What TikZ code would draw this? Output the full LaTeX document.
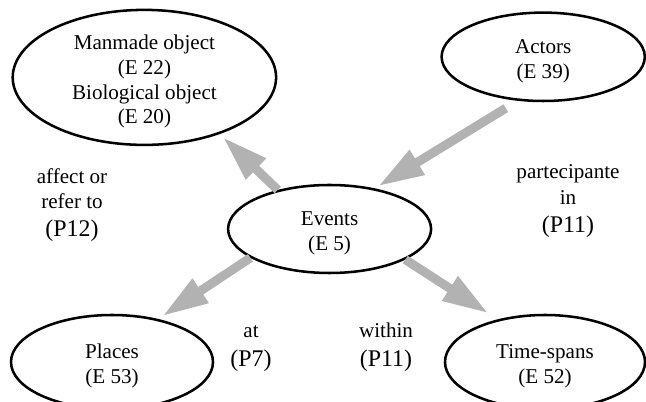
\documentclass[tikz,border=0pt]{standalone}
\usepackage{fontspec}
\setmainfont{Liberation Serif}
\usetikzlibrary{shapes.geometric,arrows.meta}

\tikzset{
  entity/.style={draw=black, line width=1.8pt, ellipse, inner sep=0pt},
  etext/.style={align=center, font=\fontsize{15}{17.6}\selectfont, yshift=-3pt},
  rel/.style={align=center, font=\fontsize{15}{18}\selectfont},
  link/.style={draw=black!30, line width=6.4pt, -{Triangle[length=32.7pt,width=19.2pt]}}
}
\newcommand{\pcode}[1]{{\fontsize{17}{18.5}\selectfont #1}}

\begin{document}
\begin{tikzpicture}
\useasboundingbox (0,0) rectangle (16.15,10.025);

% classes
\node[entity, minimum width=6.585cm, minimum height=3.375cm] (manmade) at (3.61, 8.09) {};
\node[entity, minimum width=5.08cm, minimum height=2.21cm] (actors) at (13.58, 8.605) {};
\node[entity, minimum width=5.075cm, minimum height=2.2cm] (events) at (8.24, 4.3) {};
\node[entity, minimum width=5.05cm, minimum height=2.35cm] (places) at (2.8, 0.975) {};
\node[entity, minimum width=5.0cm, minimum height=2.35cm] (timespans) at (13.625, 0.975) {};

\node[etext] (manmadetxt) at (manmade) {Manmade object\\(E 22)\\Biological object\\(E 20)};
\node[etext] (actorstxt) at (actors) {Actors\\(E 39)};
\node[etext] (eventstxt) at (events) {Events\\(E 5)};
\node[etext] (placestxt) at (places) {Places\\(E 53)};
\node[etext] (timespanstxt) at (timespans) {Time-spans\\(E 52)};

% properties
\draw[link, shorten >=3.2pt] (events.143) -- (manmade.-37);
\draw[link, shorten <=10pt, shorten >=2.8pt] (actors.240) -- (events.42);
\draw[link, shorten >=3.6pt] (events.200) -- (places.43);
\draw[link, shorten >=7.8pt] (events.-22) -- (timespans.138);

\node[rel] (p12) at (1.8, 4.9) {affect or\\refer to\\[2pt]\pcode{(P12)}};
\node[rel] (p11a) at (14.2, 5.0) {partecipante\\in\\[2pt]\pcode{(P11)}};
\node[rel] (p7) at (6.275, 1.32) {at\\[2.5pt]\pcode{(P7)}};
\node[rel] (p11b) at (9.65, 1.34) {within\\[2.5pt]\pcode{(P11)}};

\end{tikzpicture}
\end{document}
